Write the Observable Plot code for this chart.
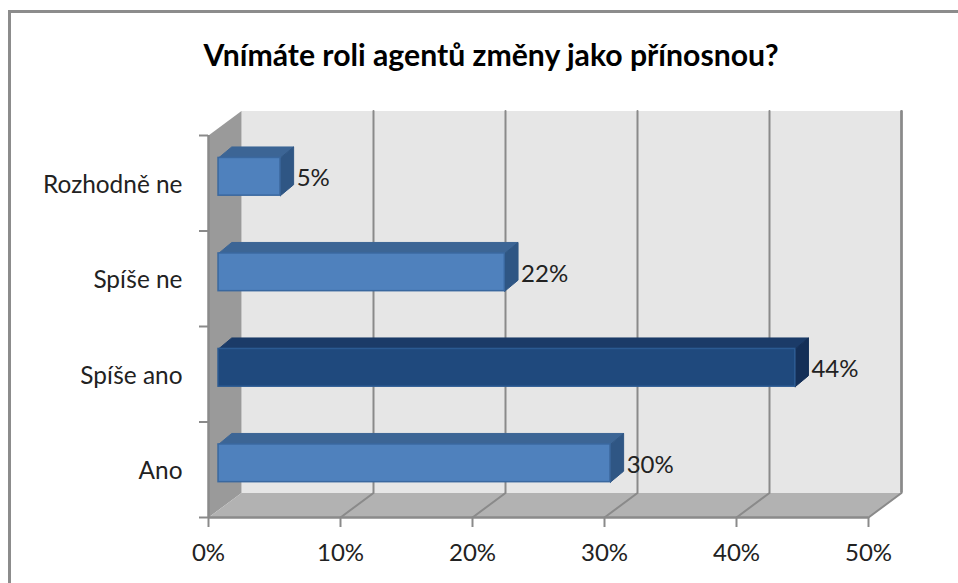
<!DOCTYPE html>
<html lang="cs">
<head>
<meta charset="utf-8">
<script src="https://cdn.jsdelivr.net/npm/d3@7"></script>
<script src="https://cdn.jsdelivr.net/npm/@observablehq/plot@0.6"></script>
<style>
  html, body { margin: 0; padding: 0; background: #fff; }
  #chart { position: relative; width: 958px; height: 583px; overflow: hidden; background: #fff; font-family: Lato, sans-serif; }
  #frame { position: absolute; left: 8px; top: 10px; width: 970px; height: 600px; border: 3px solid #8c8c8c; box-sizing: border-box; }
  #title { position: absolute; left: 0; top: 37px; width: 982px; text-align: center; font-size: 30.2px; font-weight: 700; color: #000; white-space: nowrap; line-height: 34px; }
  #plot { position: absolute; left: 0; top: 100px; }
  #plot svg { display: block; overflow: visible; }
</style>
</head>
<body>
<div id="chart">
  <div id="frame"></div>
  <div id="title">Vnímáte roli agentů změny jako přínosnou?</div>
  <div id="plot"></div>
</div>
<script>
// Survey answers, listed from the bottom row to the top row
const answers = ["Ano", "Spíše ano", "Spíše ne", "Rozhodně ne"];
const shares = [30, 44, 22, 5];
const highlighted = ["Spíše ano"];
const shareTicks = [0, 10, 20, 30, 40, 50];
const rowTicks = [0, 1, 2, 3, 4];

// Depth of the 3D box, in scale units (percent on x, rows on y)
const wallDx = 2.5, wallDy = 0.257;
const barDx = 1, barDy = 0.115;
// Bars sit slightly in front of the wall and above the row's base
const barStart = 0.76, barShift = 0.45, barLow = 0.37, barHigh = 0.765;

// A filled polygon given as [x, y] corners in scale units
const face = (corners, fill, stroke = "none", strokeWidth = 1) =>
  Plot.line([...corners, corners[0]].map(([x, y]) => ({x, y})), {
    x: "x", y: "y", fill, stroke, strokeWidth, curve: "linear-closed", strokeLinejoin: "miter"
  });

const xMax = shareTicks[shareTicks.length - 1];
const yMax = rowTicks[rowTicks.length - 1];

const walls = [
  face([[wallDx, wallDy], [xMax + wallDx, wallDy], [xMax + wallDx, yMax + wallDy], [wallDx, yMax + wallDy]], "#e6e6e6"),
  face([[0, 0], [wallDx, wallDy], [wallDx, yMax + wallDy], [0, yMax]], "#9a9a9a"),
  face([[0, 0], [xMax, 0], [xMax + wallDx, wallDy], [wallDx, wallDy]], "#b2b2b2")
];

// Gridlines climb the floor, then run up the back wall
const grid = shareTicks.slice(1).map(t =>
  Plot.line([[t, 0], [t + wallDx, wallDy], [t + wallDx, yMax + wallDy]].map(([x, y]) => ({x, y})), {
    x: "x", y: "y", stroke: "#8a8a8a", strokeWidth: 2
  })
);

const bars = answers.flatMap((name, i) => {
  const dark = highlighted.includes(name);
  const x1 = barStart, x2 = shares[i] + barShift, y1 = i + barLow, y2 = i + barHigh;
  const front = dark ? "#1f497d" : "#4f81bd";
  const edge = dark ? "#2b5a92" : "#3a689f";
  const top = dark ? "#1b3b68" : "#3c6595";
  const side = dark ? "#142f57" : "#2f5684";
  return [
    face([[x1, y2], [x1 + barDx, y2 + barDy], [x2 + barDx, y2 + barDy], [x2, y2]], top, top),
    face([[x2, y1], [x2 + barDx, y1 + barDy], [x2 + barDx, y2 + barDy], [x2, y2]], side, side),
    Plot.rect([name], {x1: () => x1, x2: () => x2, y1: () => y1, y2: () => y2, fill: front, stroke: edge, strokeWidth: 1.5})
  ];
});

const plot = Plot.plot({
  width: 958,
  height: 483,
  marginLeft: 208,
  marginRight: 90,
  marginTop: 35,
  marginBottom: 66,
  style: {background: "transparent", overflow: "visible"},
  x: {domain: [0, xMax]},
  y: {domain: [0, yMax]},
  marks: [
    ...walls,
    ...grid,
    Plot.ruleX([0], {stroke: "#8a8a8a", strokeWidth: 2.5}),
    Plot.ruleY([0], {stroke: "#8a8a8a", strokeWidth: 2.5}),
    Plot.ruleX([xMax + wallDx], {y1: wallDy, y2: yMax + wallDy, stroke: "#8a8a8a", strokeWidth: 2.5}),
    Plot.axisX({
      ticks: shareTicks, tickSize: 10, tickPadding: 16, tickFormat: d => d + "%",
      stroke: "#8a8a8a", strokeWidth: 2, fontSize: 24, fill: "#222", fontFamily: "Lato", label: null
    }),
    Plot.axisY({
      ticks: rowTicks, tickSize: 9, tickFormat: () => "", stroke: "#8a8a8a", strokeWidth: 2, label: null
    }),
    ...bars,
    // Row names to the left of the wall
    Plot.text(answers, {
      x: () => 0, y: (d, i) => i + 0.48, text: d => d, textAnchor: "end", dx: -26,
      fontSize: 24.4, fill: "#222", fontFamily: "Lato"
    }),
    // Percent labels just past each bar's end
    Plot.text(shares, {
      x: d => d + barShift + barDx, y: (d, i) => i + 0.55, text: d => d + "%", textAnchor: "start", dx: 3,
      fontSize: 24, fill: "#222", fontFamily: "Lato"
    })
  ]
});
document.getElementById("plot").append(plot);
</script>
</body>
</html>
